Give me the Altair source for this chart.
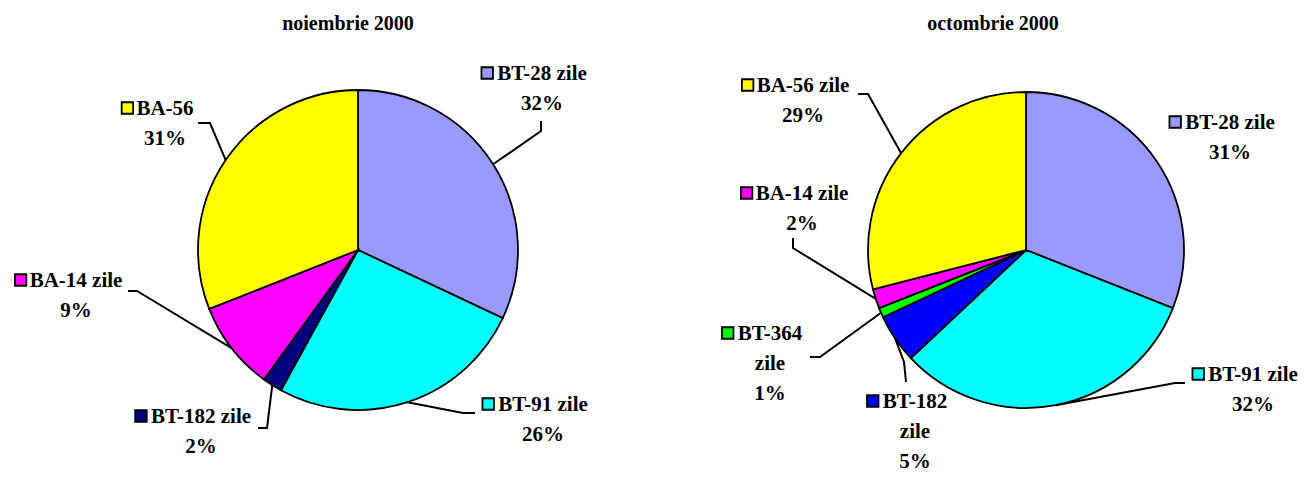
import math
import altair as alt
import pandas as pd

# ---------------- data ----------------
titles = ["noiembrie 2000", "octombrie 2000"]

nov_labels = ["BT-28 zile", "BT-91 zile", "BT-182 zile", "BA-14 zile", "BA-56"]
nov_values = [32, 26, 2, 9, 31]

oct_labels = ["BT-28 zile", "BT-91 zile", "BT-182 zile", "BT-364 zile", "BA-14 zile", "BA-56 zile"]
oct_values = [31, 32, 5, 1, 2, 29]

# ---------------- styles ----------------
nov_colors = ["#9999FF", "#00FFFF", "#000080", "#FF00FF", "#FFFF00"]
oct_colors = ["#9999FF", "#00FFFF", "#0000FF", "#00FF00", "#FF00FF", "#FFFF00"]
FONT = "Liberation Serif"
FS = 21
TFS = 20
LH = 30

# ---------------- layout (page pixels) ----------------
W, H, M = 1299, 463, 8
pies = [dict(cx=358, cy=250, r=160), dict(cx=1026, cy=250, r=158)]
title_pos = [(348, 30), (993, 30)]
# per label: text centre x, first baseline y, wrap words, elbow point, end point (None = no leader)
nov_layout = [
    (542, 80, False, (541, 131), (541, 121)),
    (543, 411, False, (463, 413), (475, 413)),
    (201, 423, False, (267, 428), (258, 428)),
    (76, 287, False, (137, 291), (128, 291)),
    (165, 115, False, (210, 123), (198, 123)),
]
oct_layout = [
    (1230, 129, False, None, None),
    (1253, 381, False, (1175, 383), (1185, 383)),
    (915, 408, True, (904, 362), (906, 382)),
    (770, 340, True, (820, 357), (810, 357)),
    (802, 200, False, (793, 248), (793, 238)),
    (803, 92, False, (868, 94), (858, 94)),
]

# Times/Liberation Serif Bold advance widths (per 1000 em)
CW = {" ": 250, "%": 1000, "-": 333, "A": 722, "B": 667, "T": 667,
      "e": 444, "i": 278, "l": 278, "z": 444}


def text_w(s):
    return sum(CW.get(ch, 500) for ch in s) * FS / 1000.0


xs = alt.Scale(domain=[M, M + W], nice=False, zero=False)
ys = alt.Scale(domain=[M, M + H], nice=False, zero=False, reverse=True)

layers = []
text_rows, key_rows, line_rows = [], [], []
lid = 0
for p, (labels, values, colors, layout) in enumerate(
        [(nov_labels, nov_values, nov_colors, nov_layout),
         (oct_labels, oct_values, oct_colors, oct_layout)]):
    pie = pies[p]
    df = pd.DataFrame({"label": labels, "v": values, "c": colors,
                       "i": list(range(len(labels)))})
    arc = alt.Chart(df).mark_arc(radius=pie["r"], stroke="black", strokeWidth=1.8).encode(
        theta=alt.Theta("v:Q", stack=True),
        order=alt.Order("i:Q"),
        color=alt.Color("c:N", scale=None, legend=None),
        x=alt.value(pie["cx"] - M),
        y=alt.value(pie["cy"] - M),
    )
    layers.append(arc)
    tot = float(sum(values))
    cum = 0.0
    for k, (lab, v, col, lay) in enumerate(zip(labels, values, colors, layout)):
        mid = (cum + v / 2.0) / tot * 2 * math.pi
        cum += v
        cx, by, wrap, elbow, end = lay
        parts = lab.split(" ") if wrap else [lab]
        lines = parts + [f"{v}%"]
        text_rows.append({"x": cx, "y": by, "t": "\n".join(lines)})
        w1 = text_w(lines[0])
        key_rows.append({"x": cx - w1 / 2 - 9, "y": by - 7, "c": col})
        if elbow is not None:
            sx = pie["cx"] + pie["r"] * math.sin(mid)
            sy = pie["cy"] - pie["r"] * math.cos(mid)
            for s, (px, py) in enumerate([(sx, sy), elbow, end]):
                line_rows.append({"id": lid, "s": s, "x": px, "y": py})
            lid += 1

lines_df = pd.DataFrame(line_rows)
leader = alt.Chart(lines_df).mark_line(color="black", strokeWidth=2).encode(
    x=alt.X("x:Q", scale=xs, axis=None),
    y=alt.Y("y:Q", scale=ys, axis=None),
    detail="id:N",
    order="s:Q",
)

text = alt.Chart(pd.DataFrame(text_rows)).mark_text(
    align="center", baseline="alphabetic", lineBreak="\n", lineHeight=LH,
    font=FONT, fontWeight="bold", fontSize=FS, color="black",
).encode(
    x=alt.X("x:Q", scale=xs, axis=None),
    y=alt.Y("y:Q", scale=ys, axis=None),
    text="t:N",
)

keys = alt.Chart(pd.DataFrame(key_rows)).mark_square(
    size=132, filled=True, stroke="black", strokeWidth=1.8, opacity=1,
).encode(
    x=alt.X("x:Q", scale=xs, axis=None),
    y=alt.Y("y:Q", scale=ys, axis=None),
    color=alt.Color("c:N", scale=None, legend=None),
)

title_df = pd.DataFrame({"t": titles, "x": [t[0] for t in title_pos], "y": [t[1] for t in title_pos]})
title_text = alt.Chart(title_df).mark_text(
    align="center", baseline="alphabetic", font=FONT, fontWeight="bold",
    fontSize=TFS, color="black",
).encode(
    x=alt.X("x:Q", scale=xs, axis=None),
    y=alt.Y("y:Q", scale=ys, axis=None),
    text="t:N",
)

chart = alt.layer(leader, *layers, keys, text, title_text).properties(
    width=W, height=H, padding=0,
).configure_view(stroke=None)

chart.save("out.html", embed_options={"renderer": "svg", "actions": False})
